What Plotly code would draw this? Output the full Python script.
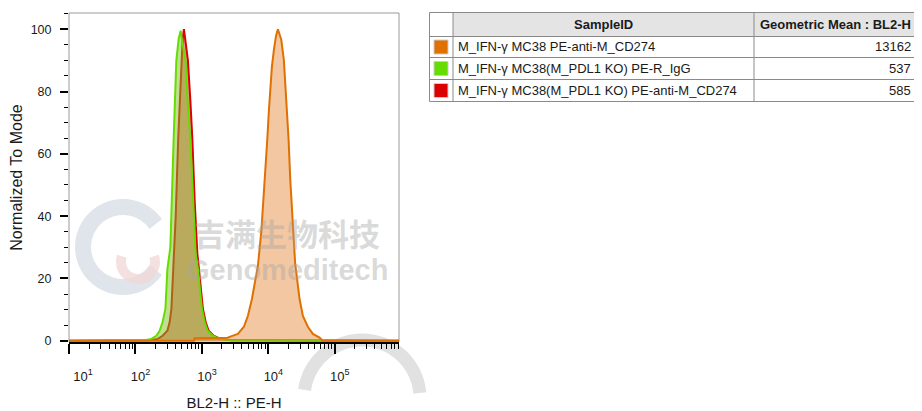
import math
import plotly.graph_objects as go

# ---------------- data ----------------
# BL2-H :: PE-H intensity (linear units) and Normalized To Mode (%)
green_x = [10, 137, 173, 206, 231, 256, 282, 292, 302, 335, 350, 366, 375, 412, 447, 479,
           513, 569, 610, 670, 718, 804, 871, 923, 1000, 1099, 1219, 1449, 1845, 2612, 60000, 1000000]
green_y = [0, 0.2, 0.6, 1.6, 3.2, 6, 10.2, 16.6, 23, 30, 45, 55, 64.6, 90, 97, 99.5,
           95, 90, 77, 64.6, 50, 28, 23, 16.6, 10.2, 6, 3.2, 1.6, 0.6, 0.2, 0, 0]

red_x = [10, 164, 216, 256, 302, 327, 347, 359, 375, 403, 439, 462, 490, 513, 536, 569,
         615, 670, 718, 777, 853, 902, 955, 1035, 1138, 1262, 1500, 1910, 2800, 1000000]
red_y = [0, 0.2, 0.6, 1.6, 3.2, 6, 10.2, 16.6, 23, 40, 64.6, 77, 90, 97, 100, 95,
         90, 77, 64.6, 45, 28, 23, 16.6, 10.2, 6, 3.2, 1.6, 0.6, 0.2, 0]

orange_x = [10, 760, 776, 2432, 2800, 3475, 4285, 4920, 5650, 6950, 7820, 8770, 9620, 10180,
            10790, 11290, 12100, 13060, 13900, 15630, 17100, 18150, 18970, 20130, 21330,
            22860, 25230, 29450, 33030, 39260, 46680, 58880, 65310, 1000000]
orange_y = [0, 0, 0.8, 1.0, 1.5, 2.2, 4.5, 8, 13.4, 24, 35, 50, 64.6, 74,
            81.7, 88, 93.4, 98, 100, 96.6, 90, 81.7, 73, 64.6, 51.8,
            39, 25, 13.4, 8, 4.5, 2.2, 1.0, 0, 0]

x_tickvals = [10, 100, 1000, 10000, 100000]
x_ticktext = ["\u00a0\u00a0\u00a0\u00a0\u00a010<sup>1</sup>", "10<sup>2</sup>",
              "10<sup>3</sup>", "10<sup>4</sup>", "10<sup>5</sup>"]
y_tickvals = [0, 20, 40, 60, 80, 100]

sample_ids = ["M_IFN-\u03b3 MC38 PE-anti-M_CD274",
              "M_IFN-\u03b3 MC38(M_PDL1 KO) PE-R_IgG",
              "M_IFN-\u03b3 MC38(M_PDL1 KO) PE-anti-M_CD274"]
geo_means = ["13162", "537", "585"]
line_colors = ["#E07000", "#66DD00", "#DD0000"]
fill_colors = ["rgba(226,122,30,0.42)", "rgba(130,192,40,0.5)", "rgba(220,0,0,0.42)"]

# ---------------- figure ----------------
OFF = 8                     # page offset of the figure inside the window
W, H = 922 - OFF, 411 - OFF
L, R, T, B = 69 - OFF, 399 - OFF, 13 - OFF, 342 - OFF   # plot area (figure pixels)


def fx(px):                 # window pixel -> paper x
    return (px - OFF - L) / (R - L)


def fy(py):                 # window pixel -> paper y
    return (B - (py - OFF)) / (B - T)


fig = go.Figure()
series = [(red_x, red_y, 2), (green_x, green_y, 1), (orange_x, orange_y, 0)]
for xs, ys, ci in series:
    fig.add_trace(go.Scatter(
        x=xs, y=ys, mode="lines", fill="tozeroy",
        line=dict(color=line_colors[ci], width=2),
        fillcolor=fill_colors[ci], showlegend=False, hoverinfo="skip"))

font_main = "Liberation Sans, Arial, sans-serif"
txt = "#1a1a1a"

fig.update_layout(
    width=W, height=H,
    margin=dict(l=L, r=W - R, t=T, b=H - B, pad=0, autoexpand=False),
    paper_bgcolor="white", plot_bgcolor="white",
    font=dict(family=font_main, size=12, color=txt),
    xaxis=dict(
        type="log", range=[1, 5.965], showgrid=False, zeroline=False, automargin=False,
        tickvals=x_tickvals, ticktext=x_ticktext,
        ticks="outside", ticklen=10, tickwidth=2, tickcolor="black",
        showline=True, linecolor="black", linewidth=2,
        tickfont=dict(size=13, color=txt),
        ticklabelshift=5, ticklabelstandoff=11,
        minor=dict(ticks="outside", ticklen=5, tickwidth=1, tickcolor="black", dtick="D1"),
        title=dict(text="BL2-H :: PE-H", font=dict(size=15, color=txt), standoff=18),
    ),
    yaxis=dict(
        range=[-0.4, 105.2], showgrid=False, zeroline=False, automargin=False,
        tickvals=y_tickvals,
        ticks="outside", ticklen=8, tickwidth=2, tickcolor="black",
        showline=False,
        tickfont=dict(size=12.5, color=txt), ticklabelstandoff=6,
        minor=dict(ticks="outside", ticklen=4, tickwidth=1, tickcolor="black", dtick=5),
        title=dict(text="Normalized To Mode", font=dict(size=16, color=txt), standoff=13),
    ),
)

shapes = []


def arc_path(cx, cy, r, a0, a1, n=40):
    pts = []
    for k in range(n + 1):
        a = math.radians(a0 + (a1 - a0) * k / n)
        pts.append((fx(cx + r * math.cos(a)), fy(cy - r * math.sin(a))))
    return "M " + " L ".join(f"{x:.5f},{y:.5f}" for x, y in pts)


# ---- watermark logo (behind the data) ----
shapes.append(dict(type="path", xref="paper", yref="paper", layer="below",
                   path=arc_path(123, 247, 40, 35, 325),
                   line=dict(color="rgba(214,220,228,0.75)", width=16)))
shapes.append(dict(type="path", xref="paper", yref="paper", layer="below",
                   path=arc_path(138, 262, 17, 160, 380),
                   line=dict(color="rgba(242,214,214,0.75)", width=10)))
# large decorative stroke near the bottom
shapes.append(dict(type="path", xref="paper", yref="paper", layer="below",
                   path=arc_path(362, 398, 58, 172, 5),
                   line=dict(color="rgba(222,222,222,0.9)", width=13)))

# gray frame of the plot area
shapes.append(dict(type="rect", xref="paper", yref="paper", x0=0, x1=1, y0=0, y1=1,
                   line=dict(color="#9a9a9a", width=1), layer="below"))

# ---- statistics table (top right) ----
tx0, tx1 = 429.5, 940
ty = [12.5, 36.5, 57.5, 79.5, 101.5]
c1, c2 = 453, 754
shapes.append(dict(type="rect", xref="paper", yref="paper", x0=fx(c1), x1=fx(tx1),
                   y0=fy(ty[1]), y1=fy(ty[0]), fillcolor="#e4e4e4", line=dict(width=0)))
shapes.append(dict(type="rect", xref="paper", yref="paper", x0=fx(tx0), x1=fx(tx1),
                   y0=fy(ty[4]), y1=fy(ty[0]), line=dict(color="#8a8a8a", width=1)))
for yy in ty[1:4]:
    shapes.append(dict(type="line", xref="paper", yref="paper", x0=fx(tx0), x1=fx(tx1),
                       y0=fy(yy), y1=fy(yy), line=dict(color="#8a8a8a", width=1)))
for xx in (c1, c2):
    shapes.append(dict(type="line", xref="paper", yref="paper", x0=fx(xx), x1=fx(xx),
                       y0=fy(ty[4]), y1=fy(ty[0]), line=dict(color="#8a8a8a", width=1)))

annotations = []
hy = fy((ty[0] + ty[1]) / 2)
annotations.append(dict(text="<b>SampleID</b>", xref="paper", yref="paper",
                        x=fx((c1 + c2) / 2), y=hy, xanchor="center", yanchor="middle",
                        showarrow=False, font=dict(size=13, color=txt)))
annotations.append(dict(text="<b>Geometric Mean : BL2-H</b>", xref="paper", yref="paper",
                        x=fx(758), y=hy, xanchor="left", yanchor="middle", showarrow=False,
                        font=dict(size=13, color=txt)))
for i in range(3):
    yc = (ty[i + 1] + ty[i + 2]) / 2
    shapes.append(dict(type="rect", xref="paper", yref="paper", x0=fx(434), x1=fx(448),
                       y0=fy(yc + 7), y1=fy(yc - 7), fillcolor=line_colors[i],
                       line=dict(color="#cccccc", width=1)))
    annotations.append(dict(text=sample_ids[i], xref="paper", yref="paper", x=fx(456), y=fy(yc),
                            xanchor="left", yanchor="middle", showarrow=False,
                            font=dict(size=13, color=txt)))
    annotations.append(dict(text=geo_means[i], xref="paper", yref="paper", x=fx(913), y=fy(yc),
                            xanchor="right", yanchor="middle", showarrow=False,
                            font=dict(size=13, color=txt)))

# ---- watermark text ----
wm = "rgba(165,165,165,0.42)"
annotations.append(dict(text="<b>吉满生物科技</b>", xref="paper", yref="paper",
                        x=fx(287), y=fy(232), xanchor="center", yanchor="middle", showarrow=False,
                        font=dict(family="Noto Sans CJK SC", size=31, color=wm)))
annotations.append(dict(text="<b>Genomeditech</b>", xref="paper", yref="paper",
                        x=fx(287), y=fy(270), xanchor="center", yanchor="middle", showarrow=False,
                        font=dict(family=font_main, size=29, color=wm)))

fig.update_layout(shapes=shapes, annotations=annotations)
fig.write_html("out.html")
